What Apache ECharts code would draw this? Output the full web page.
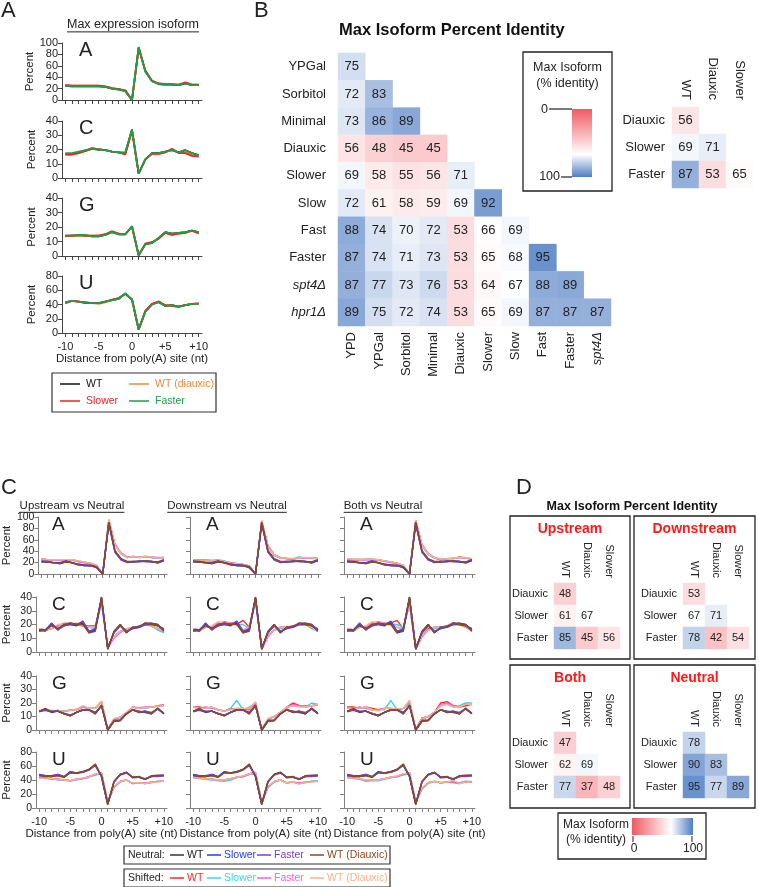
<!DOCTYPE html>
<html><head><meta charset="utf-8">
<script src="https://cdn.jsdelivr.net/npm/echarts@6/dist/echarts.min.js"></script>
<style>html,body{margin:0;padding:0;background:#fff}#c{width:759px;height:887px}</style>
</head><body><div id="c"></div>
<script>
const FONT = '"Liberation Sans", Arial, Helvetica, sans-serif';
const positions = ['-10','-9','-8','-7','-6','-5','-4','-3','-2','-1','0','+1','+2','+3','+4','+5','+6','+7','+8','+9','+10'];

// ---------- Panel A data (max expression isoform) ----------
const aA_WT     = [25,24,24,24,24,24,23,20,19,16,0,92,50,33,28,27,27,26,29,26,26];
const aA_WTd    = [26,25,25,25,25,25,24,21,19,16,0,92,51,33,29,28,28,27,30,27,27];
const aA_Slower = [26,25,25,25,25,25,24,21,19,17,0,91,52,34,29,28,28,27,31,27,27];
const aA_Faster = [25,24,24,24,24,24,23,20,18,15,0,93,50,33,28,27,27,26,29,26,26];
const aC_WT     = [17,17,18,19,20.5,20,19.5,18.5,18,17.5,34,3,13,17.5,17.5,18.5,19.5,18,19.5,17.5,16];
const aC_WTd    = [16.5,16.5,17.5,19,21,20,19.5,18.5,18,17,33.5,3,13,17,17,18,20,17.5,18,16,15.5];
const aC_Slower = [16.5,16.5,17.5,19,21,20,19.5,18.5,18,16.5,33,3,13,17,17,18,20.5,17.5,17.5,15.5,15];
const aC_Faster = [17.5,17.5,18.5,19.5,20.5,20,19.5,18.5,18,18,34,3,13,17.5,17.5,18.5,19.5,18,19.5,17.5,16];
const aG_WT     = [14,14,14,14,13.5,13.5,14.5,16.5,15,15,20.5,0.5,8,9,12.5,16.5,15.5,16,16.5,17.5,16.5];
const aG_WTd    = [13.5,14,14,14,14,14,15,17,15.5,15,20,0.5,8.5,9.5,12,16,14.5,15.5,16,17.5,15.5];
const aG_Slower = [13.5,14,14.5,14,14,14,15,17,15.5,15,20,0.5,8.5,9.5,12,16,14.5,15.5,16,17.5,15.5];
const aG_Faster = [14,14,14.5,14.5,13.5,13.5,14.5,16.5,15,15,20.5,0.5,8,9,12.5,16.5,15.5,16,16.5,17.5,16.5];
const aU_WT     = [43,45,44,43,42,42,44,46,48,55,47,5,30,40,44,38,39,37,39,41,41];
const aU_WTd    = [42,45,44,42,42,41,43,46,49,55,47,5,31,41,44,39,38,36,39,41,41];
const aU_Slower = [42,45,44,42,42,42,44,47,49,55,47,5,31,41,44,39,38,37,39,41,42];
const aU_Faster = [43,45,44,43,42,42,44,46,48,56,47,5,30,40,43,38,39,37,39,41,41];

// ---------- Panel B data ----------
const bCols = ['YPD','YPGal','Sorbitol','Minimal','Diauxic','Slower','Slow','Fast','Faster','spt4Δ'];
const bRows = ['YPGal','Sorbitol','Minimal','Diauxic','Slower','Slow','Fast','Faster','spt4Δ','hpr1Δ'];
const bYPGal    = [75];
const bSorbitol = [72,83];
const bMinimal  = [73,86,89];
const bDiauxic  = [56,48,45,45];
const bSlower   = [69,58,55,56,71];
const bSlow     = [72,61,58,59,69,92];
const bFast     = [88,74,70,72,53,66,69];
const bFaster   = [87,74,71,73,53,65,68,95];
const bSpt4     = [87,77,73,76,53,64,67,88,89];
const bHpr1     = [89,75,72,74,53,65,69,87,87,87];
const sCols = ['WT','Diauxic','Slower'];
const sRows = ['Diauxic','Slower','Faster'];
const sDiauxic = [56];
const sSlower  = [69,71];
const sFaster  = [87,53,65];

// ---------- Panel C data: neutral ----------
const neuA_WT  = [22,22,20,19,22,20,17,15,15,12,0,90,40,26,21,22,22,23,22,20,24];
const neuA_Slo = [23,21,20,20,23,20,17,16,15,13,0,89,39,25,21,21,23,22,22,21,25];
const neuA_Fas = [22,21,19,19,22,19,16,15,14,12,0,88,38,25,20,21,22,22,21,20,24];
const neuA_WTd = [21,21,20,18,21,20,16,15,15,11,0,91,41,27,22,22,22,23,22,19,23];
const neuC_WT  = [16,16,20,17,19,21,20,21,14,16,40,2,15,20,14,18,18,21,21,20,16];
const neuC_Slo = [15,16,21,16,20,20,19,22.5,15,16,39,3,14,19,15,17,18,20,20,19,16];
const neuC_Fas = [16,15,21,16,19,20,20,22,15,17,39,3,14,19,15,17,19,20,21,19,17];
const neuC_WTd = [16,16,19,17,20,21,20,20,14,15,40,2,15,20,14,18,18,21,20,20,15];
const neuG_WT  = [14,15,13.5,14,12,10.5,13,15,15,12,18,0,6.5,7,12,15,13,14,12,16,12];
const neuG_Slo = [13.5,15,13,14,12,11,13,14.5,15,13,18,0,7,7,12,15,14,13,12,16,12.5];
const neuG_Fas = [14,14.5,14,14,12.5,11,13,15,14.5,12.5,18,0,7,7.5,12,15,13.5,14,13,15.5,12];
const neuG_WTd = [14,16,13.5,14,12,10.5,13,15,15,12,18.5,0,6.5,7,12,15,13,13.5,12,16,12];
const neuU_WT  = [47,46,45,47,44,51,50,52,55,62,45,5,38,48,51,44,44,41,46,46,47];
const neuU_Slo = [48,46,46,48,45,52,50,51,55,61,46,6,37,48,51,43,44,41,45,46,46];
const neuU_Fas = [47,46,45,48,44,51,50,51,54,61,45,6,37,47,50,44,44,42,45,45,46];
const neuU_WTd = [46,45,45,46,44,50,50,52,55,63,45,5,38,48,51,44,45,41,46,47,47];
// shifted upstream
const upA_WT  = [27,25,25,25,25,25,22,20,19,15,0,95,51,36,29,31,29,31,29,28,29];
const upA_Slo = [26,25,24,25,25,25,23,21,18,15,0,93,50,35,29,30,30,30,29,28,28];
const upA_Fas = [26,24,25,24,24,24,22,20,18,14,0,94,53,37,30,31,29,31,30,29,29];
const upA_WTd = [27,25,25,25,25,25,23,21,19,15,0,96,50,36,29,31,29,31,30,28,29];
const upC_WT  = [17,16,17,19,20,21,20,19,19,19,36,4,11,15,17,17.5,18,21,19,17,15];
const upC_Slo = [16,16,17,19,20,20,20,19,18,17,35,4,11,15,17,17,18,20,19,16,14];
const upC_Fas = [17,16,17,19,21,21,20,19,18,18,37,3,10,14,17,17,18,20,19,17,15];
const upC_WTd = [17,16,17,20,20,21,21,19,18,18,38,4,11,15,17,18,18,21,19,17,15];
const upG_WT  = [14,15,14,14.5,14,14.5,15,17,16,16,21,0.5,8,9.5,12.5,17,16,16.5,17,17.5,18.5];
const upG_Slo = [14,15,14,14.5,14,15,15,17,16,16,21,0.5,8,9,12,17,16,16,17,17.5,18];
const upG_Fas = [14,14.5,14,14,14,14.5,15.5,17,16,16.5,21,0.5,8,9.5,13,17,16.5,17,17,18,19];
const upG_WTd = [14,15,14.5,14.5,14,14.5,15,18,16,16,21.5,0.5,8.5,9.5,12.5,17,16,16.5,17,17.5,18];
const upU_WT  = [43,43,42,41,40,39,41,42,44,48,50,8,30,38,40,35,36,35,37,38,38];
const upU_Slo = [44,42,42,40,40,39,40,42,44,47,49,9,29,37,40,35,36,35,36,38,39];
const upU_Fas = [43,43,41,41,40,39,41,42,45,48,51,8,30,38,40,35,36,36,37,38,38];
const upU_WTd = [42,43,42,41,40,39,41,43,44,49,50,8,31,38,40,36,36,35,37,37,38];
// shifted downstream
const dnA_WT  = [24,23,23,23,24,22,20,18,17,14,0,93,48,33,28,27,26,28,28,28,27];
const dnA_Slo = [25,25,25,24,25,23,20,18,17,14,0,92,47,32,28,27,27,30,28,27,27];
const dnA_Fas = [24,23,22,23,23,22,20,18,16,14,0,93,50,34,29,27,26,28,28,28,28];
const dnA_WTd = [24,23,23,23,24,22,19,18,17,13,0,94,47,33,28,28,27,28,29,28,27];
const dnC_WT  = [17,16,18,18,21,21,21,20,23,18,38,2,12,16,18,18,19,20,20,18,15];
const dnC_Slo = [16,15,18,18,20,21,21,20,20,17,36,3,12,16,17,17,19,20,20,17,15];
const dnC_Fas = [17,16,19,18,21,22,21,21,16,18,37,2,11,16,18,18,19,20,20,18,16];
const dnC_WTd = [17,16,18,19,22,21,21,20,16,18,38,3,12,16,18,18,19,21,20,18,15];
const dnG_WT  = [17,17,16,17,15,14,16,15,16,15,20,0.5,8,10,13,17,20,18,17,18,19];
const dnG_Slo = [17,16,16,17,15,14,16,22,15,17,20,0.5,8,10,13,17,18,18,17,20,19];
const dnG_Fas = [17,16,17,16,15,14,15,16,16,15,20,0.5,8,10,13,16,19,18,18,18,18.5];
const dnG_WTd = [17,16,16,17,15,14,15,16,16,16,21,0.5,8.5,10,13,17,18,17,17,18,19];
const dnU_WT  = [44,43,42,41,40,40,42,44,45,48,50,8,30,38,40,36,37,35,37,38,38];
const dnU_Slo = [43,42,41,40,39,38,40,43,45,48,49,9,29,37,40,36,37,35,36,38,39];
const dnU_Fas = [44,43,42,41,40,40,42,44,45,49,51,8,30,38,40,36,37,36,37,38,38];
const dnU_WTd = [43,43,42,41,40,40,42,44,46,49,50,8,31,38,40,36,37,34,37,37,38];
// shifted both
const boA_WT  = [26,25,25,26,26,25,23,21,19,15,0,94,50,35,28,25,27,27,30,28,26];
const boA_Slo = [26,26,26,25,25,25,23,21,19,15,0,93,49,34,28,26,27,28,29,28,27];
const boA_Fas = [25,25,25,25,25,24,22,20,18,14,0,94,52,36,29,26,27,27,29,28,26];
const boA_WTd = [27,26,26,26,26,25,23,21,19,15,0,95,50,35,28,26,27,28,29,29,27];
const boC_WT  = [17,16,19,18,21,21,20,21,23,17,36,2,12,17,18,18,19,21,20,19,17];
const boC_Slo = [16,15,18,18,20,21,21,20,20,18,34,3,12,16,17,18,19,20,20,18,16];
const boC_Fas = [17,16,19,18,21,22,21,21,18,17,35,2,11,16,18,18,19,21,20,18,16];
const boC_WTd = [17,16,18,19,22,21,21,20,18,17,36,3,12,16,18,18,19,20,20,18,15];
const boG_WT  = [17,17,16,17,16,15,16,16,15,16,21,0.5,9,10,13,20,21,18,17,18,19];
const boG_Slo = [16,16,16,17,15,15,15,22,15,16,20,0.5,8,10,13,18,19,17,18,20,20];
const boG_Fas = [17,16,17,16,15,15,16,16,15,16,21,0.5,8,10,13,19,20,18,17,19,19];
const boG_WTd = [16,16,16,17,15,14,16,16,16,16,22,0.5,8.5,10,13,18,19,17,17,19,19];
const boU_WT  = [44,43,42,39,40,40,42,44,45,48,50,8,28,36,38,36,37,37,35,38,37];
const boU_Slo = [43,42,41,38,39,39,41,43,45,47,49,9,27,35,38,36,37,36,35,38,38];
const boU_Fas = [44,43,42,40,40,40,42,44,45,48,51,8,28,36,38,36,37,37,36,38,37];
const boU_WTd = [43,43,42,40,40,40,42,44,46,49,50,8,29,36,38,36,37,40,35,37,37];

// ---------- Panel D data ----------
const upDiauxic = [48], upSlower = [61,67], upFaster = [85,45,56];
const dnDiauxic = [53], dnSlower = [67,71], dnFaster = [78,42,54];
const boDiauxic = [47], boSlower = [62,69], boFaster = [77,37,48];
const neDiauxic = [78], neSlower = [90,83], neFaster = [95,77,89];

// ---------- build ----------
const grids=[], xAxes=[], yAxes=[], series=[], heatIdx=[], G=[];
const TXT='#222';
function addLineGrid(left, top, width, height, yMax, yInt, o){
  const gi=grids.length;
  grids.push({left, top, width, height});
  xAxes.push({type:'category', gridIndex:gi, data:positions, boundaryGap:true,
    axisLine:{show:true, lineStyle:{color:o.ac, width:1}},
    axisTick:{show:true, alignWithLabel:true, interval:0, length:4, lineStyle:{color:o.ac}},
    axisLabel:{show:!!o.showX, interval:4, margin:8, fontSize:11, color:TXT, fontFamily:FONT},
    splitLine:{show:false},
    name:o.showX?'Distance from poly(A) site (nt)':'', nameLocation:'middle', nameGap:o.xGap||20,
    nameTextStyle:{fontSize:11.5, color:TXT, fontFamily:FONT}});
  yAxes.push({type:'value', gridIndex:gi, min:0, max:yMax, interval:yInt,
    axisLine:{show:true, lineStyle:{color:o.ac, width:1}},
    axisTick:{show:true, length:4, lineStyle:{color:o.ac}},
    splitLine:{show:false},
    axisLabel:{show:!!o.showY, margin:4, fontSize:o.yfs||11, color:TXT, fontFamily:FONT, showMinLabel:true, showMaxLabel:true, hideOverlap:false},
    name:o.showY?'Percent':'', nameLocation:'middle', nameRotate:90, nameGap:o.yGap||24,
    nameTextStyle:{fontSize:11.5, color:TXT, fontFamily:FONT}});
  return gi;
}
function addLine(gi, data, color, width){
  series.push({type:'line', xAxisIndex:gi, yAxisIndex:gi, data, symbol:'none', silent:true,
    lineStyle:{color, width}, itemStyle:{color}});
}
function txt(x,y,s,o){
  o=o||{};
  G.push({type:'text', x, y, silent:true, style:{text:s, fill:o.fill||TXT, fontSize:o.fs||12,
    fontFamily:FONT, fontWeight:o.fw||'normal', fontStyle:o.fst||'normal',
    align:o.align||'left', verticalAlign:o.va||'middle', textAlign:o.align||'left', textVerticalAlign:o.va||'middle'}});
}
function line(x1,y1,x2,y2,c,w){ G.push({type:'line', silent:true, shape:{x1,y1,x2,y2}, style:{stroke:c||'#222', lineWidth:w||1}}); }
function box(x,y,w,h,c,lw){ G.push({type:'rect', silent:true, shape:{x,y,width:w,height:h}, style:{fill:'none', stroke:c||'#222', lineWidth:lw||1.2}}); }
const mctx=document.createElement('canvas').getContext('2d');
function tw(s,fs,fw){ mctx.font=(fw||'normal')+' '+fs+'px '+FONT; return mctx.measureText(s).width; }
function uTitle(cx,y,s,fs){ txt(cx,y,s,{fs,align:'center'}); const w=tw(s,fs); line(cx-w/2,y+fs*0.55,cx+w/2,y+fs*0.55,'#222',1); }

// Panel A
txt(1,11,'A',{fs:22});
uTitle(133,25,'Max expression isoform',12.5);
const colA=['#111111','#f08a3a','#ee2222','#1e9e48'];
const panelA=[
  {nt:'A',max:100,int:20,top:43,h:57,s:[aA_WT,aA_WTd,aA_Slower,aA_Faster]},
  {nt:'C',max:40,int:10,top:121,h:57,s:[aC_WT,aC_WTd,aC_Slower,aC_Faster]},
  {nt:'G',max:40,int:10,top:198,h:58,s:[aG_WT,aG_WTd,aG_Slower,aG_Faster]},
  {nt:'U',max:80,int:20,top:276,h:57,s:[aU_WT,aU_WTd,aU_Slower,aU_Faster]}];
panelA.forEach((p,i)=>{
  const gi=addLineGrid(62,p.top,140,p.h,p.max,p.int,{ac:'#444',showY:true,showX:i===3,yGap:24,xGap:20});
  p.s.forEach((d,k)=>addLine(gi,d,colA[k],1.8));
  txt(79,p.top+7,p.nt,{fs:20});
});
box(52,373,164,39,'#333',1.2);
[[60,384,'#111111','WT'],[129,384,'#f08a3a','WT (diauxic)'],[60,401,'#ee2222','Slower'],[129,401,'#1e9e48','Faster']].forEach(it=>{
  line(it[0],it[1],it[0]+20,it[1],it[2],1.5); txt(it[0]+26,it[1],it[3],{fs:10.5,fill:it[2]==='#111111'?'#111':it[2]});
});

// Panel B
txt(254,11,'B',{fs:22});
txt(339,30,'Max Isoform Percent Identity',{fs:16.5,fw:'bold',fill:'#111'});
const italicFmt = v => (v.indexOf('Δ')>=0 ? '{i|'+v+'}' : v);
function heat(left, top, cell, cols, rows, rowVals, o){
  const gi=grids.length;
  grids.push({left, top, width:cell*cols.length, height:cell*rows.length});
  const lab={fontSize:o.fs, color:TXT, fontFamily:FONT, formatter:italicFmt, rich:{i:{fontStyle:'italic', fontSize:o.fs, color:TXT, fontFamily:FONT}}};
  xAxes.push({type:'category', gridIndex:gi, data:cols, position:o.xPos, axisLine:{show:false}, axisTick:{show:false}, splitLine:{show:false},
    axisLabel:Object.assign({rotate:90, margin:o.xm, interval:0}, lab)});
  yAxes.push({type:'category', gridIndex:gi, data:rows, inverse:true, axisLine:{show:false}, axisTick:{show:false}, splitLine:{show:false},
    axisLabel:Object.assign({margin:o.ym, interval:0}, lab)});
  const data=[];
  rowVals.forEach((vals,r)=>vals.forEach((v,c)=>data.push([c,r,v])));
  heatIdx.push(series.length);
  series.push({type:'heatmap', xAxisIndex:gi, yAxisIndex:gi, data, silent:true,
    label:{show:true, fontSize:o.vfs, color:TXT, fontFamily:FONT}, itemStyle:{borderWidth:0}});
}
heat(338,53,27.3,bCols,bRows,[bYPGal,bSorbitol,bMinimal,bDiauxic,bSlower,bSlow,bFast,bFaster,bSpt4,bHpr1],{fs:13,vfs:13,xPos:'bottom',xm:6,ym:12});
heat(672,107,27,sCols,sRows,[sDiauxic,sSlower,sFaster],{fs:13,vfs:13,xPos:'top',xm:7,ym:7});
// colorbar B
box(523,52,89,139,'#222',1.3);
txt(567.5,68,'Max Isoform',{fs:12.5,align:'center'});
txt(567.5,84,'(% identity)',{fs:12.5,align:'center'});
G.push({type:'rect', silent:true, shape:{x:572,y:109,width:20,height:68}, style:{fill:new echarts.graphic.LinearGradient(0,0,0,1,[{offset:0,color:'#ef5a62'},{offset:0.67,color:'#ffffff'},{offset:1,color:'#4f7dc3'}])}});
line(549,109,572,109,'#222',1.2); line(561,177,572,177,'#222',1.2);
txt(548,110,'0',{fs:12.5,align:'right'}); txt(560,177,'100',{fs:12.5,align:'right'});

// Panel C
txt(1,488,'C',{fs:22});
const cCols=[36,190,344], cW=131;
const cTitles=['Upstream vs Neutral','Downstream vs Neutral','Both vs Neutral'];
const cRows=[{nt:'A',max:100,int:20,top:517,h:57},{nt:'C',max:40,int:10,top:597,h:55},{nt:'G',max:40,int:10,top:676,h:54},{nt:'U',max:80,int:20,top:752,h:56}];
const neutralSets={A:[neuA_WT,neuA_Slo,neuA_Fas,neuA_WTd],C:[neuC_WT,neuC_Slo,neuC_Fas,neuC_WTd],G:[neuG_WT,neuG_Slo,neuG_Fas,neuG_WTd],U:[neuU_WT,neuU_Slo,neuU_Fas,neuU_WTd]};
const shiftedSets=[
  {A:[upA_WT,upA_Slo,upA_Fas,upA_WTd],C:[upC_WT,upC_Slo,upC_Fas,upC_WTd],G:[upG_WT,upG_Slo,upG_Fas,upG_WTd],U:[upU_WT,upU_Slo,upU_Fas,upU_WTd]},
  {A:[dnA_WT,dnA_Slo,dnA_Fas,dnA_WTd],C:[dnC_WT,dnC_Slo,dnC_Fas,dnC_WTd],G:[dnG_WT,dnG_Slo,dnG_Fas,dnG_WTd],U:[dnU_WT,dnU_Slo,dnU_Fas,dnU_WTd]},
  {A:[boA_WT,boA_Slo,boA_Fas,boA_WTd],C:[boC_WT,boC_Slo,boC_Fas,boC_WTd],G:[boG_WT,boG_Slo,boG_Fas,boG_WTd],U:[boU_WT,boU_Slo,boU_Fas,boU_WTd]}];
const neuCol=['#333333','#2040f0','#7b3fc4','#8b4a22'];
const shCol=['#ff2a2a','#40d0f0','#ff5ce6','#f5b48a'];
const cTitleX=[72,227,383];
cCols.forEach((left,ci)=>{
  uTitle(cTitleX[ci],506,cTitles[ci],11.5);
  cRows.forEach((r,ri)=>{
    const gi=addLineGrid(left,r.top,cW,r.h,r.max,r.int,{ac:'#808080',showY:ci===0,showX:ri===3,yGap:23,xGap:18,yfs:10.5});
    shiftedSets[ci][r.nt].forEach((d,k)=>addLine(gi,d,shCol[k],1.4));
    neutralSets[r.nt].forEach((d,k)=>addLine(gi,d,neuCol[k],1.4));
    txt(left+16,r.top+8,r.nt,{fs:19});
  });
});
// legends C
box(124,846,266,18,'#333',1.2); box(124,869,266,18,'#333',1.2);
txt(128,855,'Neutral:',{fs:10.5});
txt(128,878,'Shifted:',{fs:10.5});
const legX=[[170,'WT'],[207,'Slower'],[257,'Faster'],[310,'WT (Diauxic)']];
legX.forEach((l,k)=>{
  line(l[0],855,l[0]+14,855,neuCol[k],1.5); txt(l[0]+17,855,l[1],{fs:10.5,fill:k===0?'#222':neuCol[k]});
  line(l[0],878,l[0]+14,878,shCol[k],1.5); txt(l[0]+17,878,l[1],{fs:10.5,fill:shCol[k]});
});

// Panel D
txt(516,488,'D',{fs:22});
txt(632,507,'Max Isoform Percent Identity',{fs:12.5,fw:'bold',align:'center',fill:'#111'});
const dBoxes=[[510,516,'Upstream',554,583,[upDiauxic,upSlower,upFaster]],[634,516,'Downstream',683,583,[dnDiauxic,dnSlower,dnFaster]],
              [510,665,'Both',554,732,[boDiauxic,boSlower,boFaster]],[634,665,'Neutral',683,732,[neDiauxic,neSlower,neFaster]]];
dBoxes.forEach(b=>{
  const w = b[0]===510 ? 120 : 121;
  box(b[0],b[1],w,143,'#222',1.3);
  txt(b[0]+w/2,b[1]+13,b[2],{fs:14,fw:'bold',fill:'#ff1a1a',align:'center'});
  heat(b[3],b[4],22,sCols,sRows,b[5],{fs:11,vfs:11,xPos:'top',xm:5,ym:6});
});
box(558,813,148,46,'#222',1.3);
txt(563,825,'Max Isoform',{fs:12});
txt(566,840,'(% identity)',{fs:12});
G.push({type:'rect', silent:true, shape:{x:632,y:818,width:61,height:17}, style:{fill:new echarts.graphic.LinearGradient(0,0,1,0,[{offset:0,color:'#ef5a62'},{offset:0.64,color:'#ffffff'},{offset:1,color:'#4f7dc3'}])}});
line(633,836,633,842,'#222',1); line(692,836,692,842,'#222',1);
txt(634,849,'0',{fs:12,align:'center'}); txt(693,849,'100',{fs:12,align:'center'});

const chart=echarts.init(document.getElementById('c'),null,{renderer:'canvas',width:759,height:887});
chart.setOption({
  animation:false,
  backgroundColor:'#ffffff',
  textStyle:{fontFamily:FONT},
  grid:grids, xAxis:xAxes, yAxis:yAxes, series,
  visualMap:[{type:'continuous', show:false, min:0, max:100, seriesIndex:heatIdx, inRange:{color:['#ef5a62','#f7adb1','#ffffff','#4f7dc3']}}],
  graphic:{elements:G}
});
</script></body></html>
